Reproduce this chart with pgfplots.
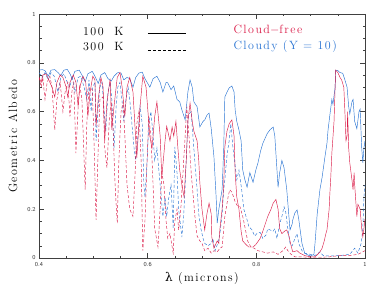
\documentclass[border=0pt]{standalone}
\usepackage{fontspec}
\usepackage{pgfplots}
\pgfplotsset{compat=1.18}
\newfontfamily\lbl[LetterSpace=12]{Latin Modern Roman}
\newfontfamily\grk{DejaVu Serif}
\definecolor{cfree}{RGB}{218,28,72}
\definecolor{cloudy}{RGB}{40,115,210}

% cloudy (Y = 10), 100 K
\pgfplotstableread{
lam A
.400 .770
.406 .772
.411 .768
.417 .745
.422 .770
.429 .772
.435 .760
.440 .748
.446 .770
.452 .773
.457 .755
.461 .735
.466 .765
.474 .770
.479 .750
.485 .722
.490 .755
.498 .765
.503 .745
.509 .715
.514 .750
.521 .760
.527 .735
.533 .725
.538 .745
.545 .760
.551 .758
.556 .730
.562 .740
.567 .735
.573 .700
.578 .740
.584 .758
.590 .762
.595 .735
.601 .712
.604 .700
.610 .735
.617 .745
.623 .720
.628 .680
.634 .720
.637 .718
.643 .690
.648 .705
.654 .650
.659 .640
.663 .607
.669 .566
.674 .680
.678 .730
.682 .700
.685 .640
.691 .620
.696 .537
.702 .560
.705 .566
.709 .585
.713 .594
.717 .530
.722 .414
.726 .250
.728 .143
.731 .200
.737 .280
.740 .450
.742 .660
.746 .680
.750 .697
.755 .705
.759 .680
.761 .607
.764 .560
.768 .525
.772 .480
.775 .360
.779 .320
.783 .290
.788 .350
.794 .310
.799 .360
.803 .390
.808 .440
.812 .470
.820 .510
.825 .525
.831 .537
.834 .500
.838 .360
.840 .290
.843 .350
.847 .400
.851 .370
.856 .280
.862 .115
.866 .140
.867 .156
.871 .185
.875 .197
.878 .160
.884 .060
.889 .020
.895 .012
.900 .008
.906 .015
.908 .060
.912 .180
.915 .240
.917 .280
.921 .330
.926 .410
.930 .470
.932 .525
.935 .580
.939 .650
.941 .630
.945 .700
.946 .770
.950 .768
.954 .760
.959 .757
.963 .730
.967 .700
.970 .620
.972 .590
.976 .640
.978 .650
.981 .560
.985 .530
.989 .600
.991 .610
.994 .450
.996 .390
.998 .450
1.000 .480
}\cloudyA

% cloudy (Y = 10), 300 K
\pgfplotstableread{
lam A
.400 .760
.406 .740
.411 .760
.417 .730
.422 .760
.428 .745
.435 .680
.440 .740
.446 .755
.452 .720
.457 .700
.461 .745
.466 .680
.472 .740
.477 .745
.483 .700
.488 .650
.492 .730
.496 .600
.499 .700
.503 .720
.505 .480
.509 .620
.512 .700
.516 .720
.520 .600
.523 .520
.527 .680
.531 .720
.534 .650
.538 .450
.542 .620
.545 .700
.549 .720
.553 .640
.556 .560
.560 .650
.564 .700
.567 .650
.571 .550
.575 .450
.578 .400
.582 .500
.586 .620
.590 .550
.593 .300
.595 .250
.599 .400
.602 .550
.606 .600
.610 .500
.613 .400
.617 .450
.621 .350
.625 .250
.628 .170
.632 .250
.635 .170
.639 .250
.643 .300
.647 .120
.650 .455
.654 .350
.657 .200
.663 .086
.667 .200
.671 .400
.674 .560
.676 .590
.680 .600
.684 .480
.687 .390
.691 .280
.694 .180
.698 .120
.702 .080
.705 .060
.711 .050
.717 .060
.720 .080
.724 .030
.729 .060
.733 .100
.737 .180
.740 .280
.742 .320
.746 .420
.750 .480
.753 .550
.757 .450
.761 .380
.764 .320
.768 .360
.770 .330
.773 .280
.777 .200
.783 .156
.786 .130
.792 .115
.797 .090
.801 .100
.807 .105
.812 .080
.818 .095
.821 .120
.825 .115
.831 .110
.834 .120
.838 .080
.843 .140
.847 .170
.851 .210
.854 .190
.858 .120
.862 .060
.866 .050
.871 .080
.875 .100
.878 .060
.884 .030
.889 .020
.899 .015
.908 .010
.917 .025
.923 .010
.935 .008
.954 .010
.972 .015
.981 .040
.987 .020
.993 .060
.996 .120
.998 .250
1.000 .300
}\cloudyB

% cloud-free, 100 K
\pgfplotstableread{
lam A
.400 .740
.404 .720
.407 .750
.413 .755
.418 .730
.424 .700
.429 .660
.433 .720
.439 .750
.444 .740
.450 .700
.453 .660
.457 .720
.463 .750
.468 .720
.472 .620
.475 .700
.481 .745
.486 .720
.490 .580
.494 .680
.499 .745
.503 .730
.505 .540
.509 .650
.514 .740
.518 .700
.521 .480
.525 .640
.531 .735
.534 .525
.538 .620
.544 .740
.549 .760
.553 .700
.558 .580
.562 .700
.567 .740
.573 .680
.580 .410
.586 .620
.591 .745
.597 .700
.604 .500
.608 .450
.613 .580
.617 .640
.623 .500
.626 .330
.632 .480
.635 .540
.641 .480
.645 .537
.648 .500
.652 .560
.656 .440
.659 .360
.663 .300
.667 .250
.671 .400
.674 .560
.678 .635
.682 .560
.685 .520
.691 .480
.694 .400
.696 .310
.700 .200
.705 .115
.709 .180
.713 .225
.717 .180
.718 .086
.722 .040
.728 .070
.731 .060
.733 .120
.737 .200
.740 .300
.742 .455
.746 .520
.750 .550
.755 .566
.759 .500
.761 .350
.764 .250
.768 .200
.772 .110
.775 .070
.781 .055
.786 .045
.794 .045
.799 .055
.807 .080
.812 .110
.818 .150
.821 .170
.827 .200
.831 .225
.836 .240
.840 .200
.843 .120
.847 .100
.852 .110
.856 .115
.860 .090
.864 .050
.867 .025
.875 .030
.880 .020
.889 .010
.899 .005
.908 .005
.913 .015
.917 .025
.921 .040
.925 .070
.928 .100
.930 .115
.934 .200
.935 .250
.937 .330
.939 .430
.943 .560
.946 .770
.950 .760
.954 .740
.957 .730
.961 .700
.963 .600
.965 .480
.967 .500
.968 .600
.970 .450
.972 .390
.976 .320
.978 .280
.980 .350
.981 .300
.985 .170
.987 .220
.991 .200
.994 .120
.996 .086
.998 .120
1.000 .160
}\freeA

% cloud-free, 300 K
\pgfplotstableread{
lam A
.400 .740
.404 .700
.407 .740
.411 .650
.415 .720
.420 .745
.424 .700
.429 .525
.433 .650
.439 .720
.444 .600
.448 .680
.453 .720
.457 .580
.461 .690
.464 .720
.468 .430
.472 .620
.475 .710
.479 .650
.485 .280
.488 .550
.492 .700
.498 .690
.501 .500
.505 .156
.509 .450
.512 .650
.518 .660
.521 .450
.525 .370
.529 .550
.533 .640
.536 .550
.540 .300
.544 .143
.547 .400
.551 .600
.555 .640
.558 .500
.562 .300
.567 .200
.573 .170
.577 .350
.580 .550
.584 .600
.588 .400
.591 .030
.595 .150
.599 .400
.602 .580
.606 .500
.610 .300
.613 .120
.619 .045
.623 .200
.626 .350
.630 .300
.634 .150
.637 .080
.641 .100
.647 .020
.650 .150
.654 .200
.657 .115
.661 .200
.665 .350
.669 .500
.672 .620
.676 .500
.680 .350
.684 .250
.687 .170
.691 .090
.696 .070
.700 .060
.705 .030
.711 .040
.717 .020
.722 .030
.728 .025
.733 .040
.737 .045
.742 .170
.748 .250
.751 .280
.755 .270
.761 .230
.766 .210
.770 .210
.775 .170
.779 .127
.784 .070
.790 .045
.796 .040
.803 .030
.812 .025
.821 .020
.831 .025
.840 .015
.849 .030
.854 .045
.858 .030
.864 .015
.871 .005
.880 .005
.899 .003
.917 .003
.935 .005
.954 .010
.972 .010
.987 .015
1.000 .030
}\freeB

\begin{document}
\begin{tikzpicture}
\begin{axis}[scale only axis, width=326pt, height=244pt,
  xmin=0.4, xmax=1, ymin=0, ymax=1,
  xtick={0.4,0.6,0.8,1}, ytick={0,0.2,0.4,0.6,0.8,1},
  minor x tick num=3, minor y tick num=3,
  tick align=inside, major tick length=5pt, minor tick length=2.5pt,
  axis line style={black!75, line width=0.6pt},
  every tick/.style={black!75, line width=0.5pt},
  tick label style={font=\fontsize{6}{7}\selectfont\sffamily, black!80},
  /pgf/number format/assume math mode=true,
  xticklabel style={yshift=-1pt},
  xlabel={\lbl{\grk λ} (microns)}, ylabel={\lbl Geometric Albedo},
  label style={font=\fontsize{12}{14}\selectfont},
  xlabel style={at={(axis description cs:0.5,-0.082)}, anchor=center},
  ylabel style={at={(axis description cs:-0.08,0.5)}, anchor=center},
  every axis plot/.append style={line width=0.45pt, no marks},
  clip mode=individual]
\addplot[cloudy, dash pattern=on 3pt off 2pt] table {\cloudyB};
\addplot[cloudy] table {\cloudyA};
\addplot[cfree, dash pattern=on 3pt off 2pt] table {\freeB};
\addplot[cfree] table {\freeA};
\node[font=\fontsize{12}{14}\selectfont\lbl, anchor=east] at (rel axis cs:0.27,0.93) {100\ \ K};
\node[font=\fontsize{12}{14}\selectfont\lbl, anchor=east] at (rel axis cs:0.27,0.865) {300\ \ K};
\draw[black, line width=0.45pt] (rel axis cs:0.334,0.922) -- (rel axis cs:0.451,0.922);
\draw[black, line width=0.45pt, dash pattern=on 3pt off 2pt] (rel axis cs:0.334,0.852) -- (rel axis cs:0.451,0.852);
\node[font=\fontsize{12}{14}\selectfont\lbl, anchor=west, text=cfree] at (rel axis cs:0.586,0.937) {Cloud$-$free};
\node[font=\fontsize{12}{14}\selectfont\lbl, anchor=west, text=cloudy] at (rel axis cs:0.586,0.868) {Cloudy (Y = 10)};
\end{axis}
\pgfresetboundingbox
\path[use as bounding box] ([shift={(-39pt,-33pt)}]current axis.south west)
  rectangle ([shift={(24pt,14pt)}]current axis.north east);
\end{tikzpicture}
\end{document}
